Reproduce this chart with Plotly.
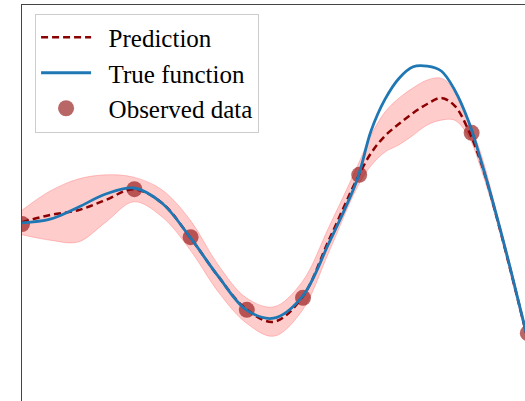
import plotly.graph_objects as go

# Grid on which curves were read
x_grid = [0, 0.5, 1.0, 1.49, 1.99, 2.49, 2.99, 3.49, 3.99, 4.48, 4.98, 5.46, 5.96, 6.21,
          6.46, 6.71, 6.96, 7.21, 7.46, 7.70, 7.95, 8.20, 8.45, 8.70, 9.0]

true_y = [0.37, 0.43, 0.63, 0.85, 0.95, 0.70, 0.13, -0.52, -1.08, -1.22, -0.87, 0.03, 1.08, 1.90,
          2.43, 2.78, 2.97, 2.98, 2.90, 2.58, 2.05, 1.30, 0.47, -0.43, -1.57]

pred_y = [0.38, 0.50, 0.58, 0.75, 0.93, 0.70, 0.13, -0.52, -1.07, -1.28, -0.88, 0.08, 1.10, 1.53,
          1.82, 2.02, 2.20, 2.35, 2.45, 2.32, 1.90, 1.28, 0.45, -0.45, -1.58]

upper_y = [0.58, 0.90, 1.10, 1.17, 1.13, 0.92, 0.42, -0.33, -0.88, -1.03, -0.62, 0.30, 1.30, 1.83,
           2.22, 2.45, 2.62, 2.75, 2.78, 2.58, 2.08, 1.42, 0.53, -0.37, -1.52]

lower_y = [0.17, 0.08, 0.05, 0.38, 0.72, 0.47, -0.08, -0.78, -1.30, -1.52, -1.10, -0.12, 0.95, 1.32,
           1.55, 1.67, 1.83, 2.00, 2.08, 2.08, 1.80, 1.17, 0.38, -0.53, -1.65]

obs_x = [0, 2, 3, 4, 5, 6, 8, 9]
obs_y = [0.35, 0.93, 0.13, -1.08, -0.88, 1.17, 1.87, -1.47]

fig = go.Figure()

band_color = "rgba(255,0,0,0.2)"
fig.add_trace(go.Scatter(x=x_grid, y=upper_y, mode="lines", line=dict(color=band_color, width=1, shape="spline"),
                         showlegend=False, hoverinfo="skip"))
fig.add_trace(go.Scatter(x=x_grid, y=lower_y, mode="lines", line=dict(color=band_color, width=1, shape="spline"),
                         fill="tonexty", fillcolor=band_color, showlegend=False, hoverinfo="skip"))

pad = "\u00a0\u00a0"
fig.add_trace(go.Scatter(x=obs_x, y=obs_y, mode="markers", name=pad + "Observed data",
                         marker=dict(color="rgba(139,0,0,0.6)", size=16, line=dict(width=0)),
                         legendrank=3, legendgroup="c"))
fig.add_trace(go.Scatter(x=x_grid, y=pred_y, mode="lines", name=pad + "Prediction",
                         line=dict(color="#8b0000", width=2.5, dash="7px,4px", shape="spline"),
                         legendrank=1, legendgroup="a"))
fig.add_trace(go.Scatter(x=x_grid, y=true_y, mode="lines", name=pad + "True function",
                         line=dict(color="#1f77b4", width=2.8, shape="spline"),
                         legendrank=2, legendgroup="b"))

fig.update_layout(
    width=525, height=401,
    margin=dict(l=22, r=0, t=5, b=0),
    plot_bgcolor="white", paper_bgcolor="white",
    font=dict(family="Liberation Serif", size=25, color="black"),
    xaxis=dict(range=[0, 8.95], side="top", showline=True, linecolor="#444", linewidth=1.3,
               showticklabels=False, ticks="", showgrid=False, zeroline=False),
    yaxis=dict(range=[-2.6, 4.0], showline=True, linecolor="#444", linewidth=1.3,
               showticklabels=False, ticks="", showgrid=False, zeroline=False),
    legend=dict(x=0.026, y=0.9785, xanchor="left", yanchor="top",
                bgcolor="rgba(255,255,255,0.85)", bordercolor="#cccccc", borderwidth=1,
                itemwidth=50, tracegroupgap=0, traceorder="grouped"),
    showlegend=True,
)

fig.write_html("out.html", config={"displayModeBar": False},
               post_script="document.body.style.margin='0';document.body.style.overflow='hidden';")
